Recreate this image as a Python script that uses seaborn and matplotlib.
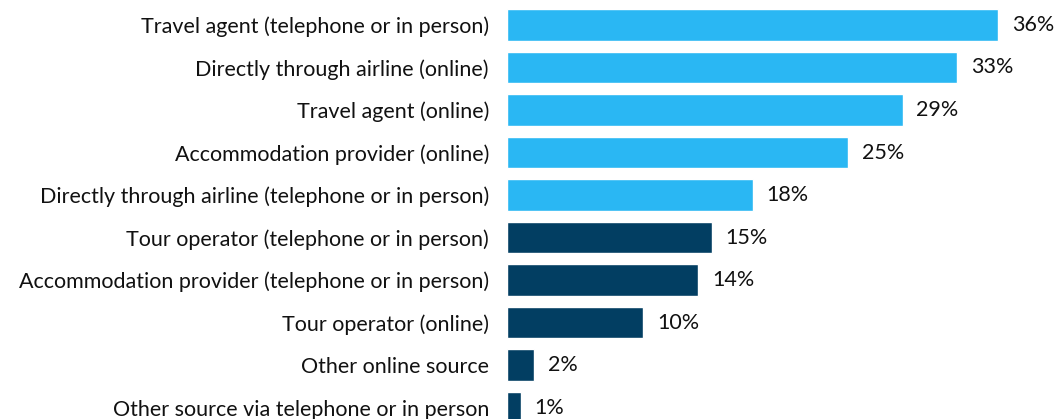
import matplotlib.pyplot as plt
import pandas as pd
import seaborn as sns

sources = [
    "Travel agent (telephone or in person)",
    "Directly through airline (online)",
    "Travel agent (online)",
    "Accommodation provider (online)",
    "Directly through airline (telephone or in person)",
    "Tour operator (telephone or in person)",
    "Accommodation provider (telephone or in person)",
    "Tour operator (online)",
    "Other online source",
    "Other source via telephone or in person",
]
shares = [36, 33, 29, 25, 18, 15, 14, 10, 2, 1]
groups = ["top"] * 5 + ["rest"] * 5

light_blue = "#2AB7F3"
navy = "#023E62"

df = pd.DataFrame({"source": sources, "share": shares, "group": groups})

sns.set_style("white")
plt.rcParams["font.family"] = ["Lato", "DejaVu Sans"]

fig = plt.figure(figsize=(10.56, 4.19), dpi=100)
ax = fig.add_axes([507 / 1056, 0, 1 - 507 / 1056, 1])

sns.barplot(
    data=df, x="share", y="source", hue="group",
    palette={"top": light_blue, "rest": navy},
    width=0.74, legend=False, ax=ax, saturation=1,
)

for container in ax.containers:
    ax.bar_label(container, labels=[f"{v:.0f}%" for v in container.datavalues],
                 padding=10, fontsize=15.5, color="#111111")

ax.set_xlim(0, 40.25)
ax.set_ylim(9.27, -0.588)
ax.set_xlabel("")
ax.set_ylabel("")
ax.set_xticks([])
ax.tick_params(axis="y", length=0, pad=13, labelsize=15.5, labelcolor="#111111")
sns.despine(ax=ax, left=True, bottom=True)

fig.savefig("out.png", dpi=100)
